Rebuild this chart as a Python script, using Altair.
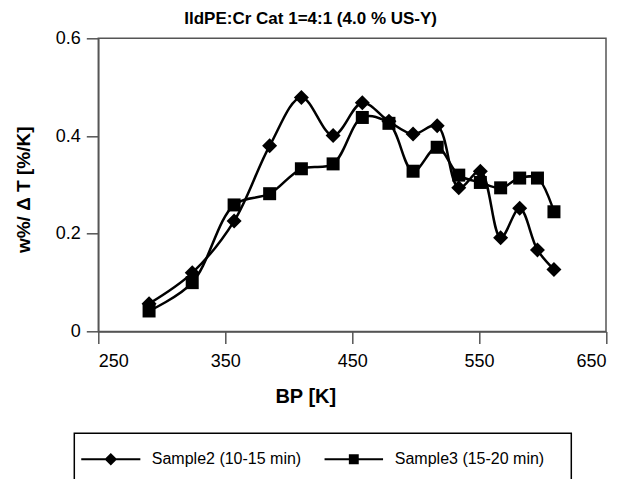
import altair as alt
import pandas as pd

# ---- data ----
bp = [290, 324, 357, 385, 410, 435, 458, 479, 498, 517, 534, 551, 567, 582, 596, 609]
sample2 = [0.057, 0.120, 0.226, 0.380, 0.479, 0.401, 0.468, 0.430, 0.404, 0.421,
           0.294, 0.328, 0.192, 0.252, 0.167, 0.127]
sample3 = [0.042, 0.100, 0.259, 0.282, 0.333, 0.343, 0.438, 0.426, 0.328, 0.377,
           0.320, 0.305, 0.294, 0.314, 0.314, 0.245]
names = ["Sample2 (10-15 min)", "Sample3 (15-20 min)"]
x_ticks = [250, 350, 450, 550, 650]
y_ticks = [0, 0.2, 0.4, 0.6]

df = pd.DataFrame({
    "bp": bp + bp,
    "w": sample2 + sample3,
    "series": [names[0]] * len(bp) + [names[1]] * len(bp),
})

FONT = "Liberation Sans"

x = alt.X("bp:Q",
          scale=alt.Scale(domain=[250, 650], nice=False, zero=False),
          axis=alt.Axis(values=x_ticks, title="BP [K]", labelPadding=9,
                        titleFontSize=20, titleFontWeight="bold",
                        titleX=207, titleY=65, titleBaseline="middle",
                        titleAlign="center"))
y = alt.Y("w:Q",
          scale=alt.Scale(domain=[0, 0.6], nice=False),
          axis=alt.Axis(values=y_ticks, title="w%/ \u0394 T [%/K]", labelPadding=6,
                        labelExpr="datum.value == 0 ? '0' : format(datum.value, '.1f')",
                        titleFontSize=19, titleFontWeight="bold",
                        titleX=-75, titleY=151, titleBaseline="middle",
                        titleAlign="center", titleAngle=-90))

# legend frame (decoration, in pixels relative to the plot origin)
frame = alt.Chart(alt.Data(values=[{}])).mark_rect(
    fill="white", stroke="black", strokeWidth=1.5
).encode(x=alt.value(-24), x2=alt.value(473), y=alt.value(395), y2=alt.value(470))

lines = alt.Chart(df).mark_line(
    interpolate="catmull-rom", color="black", strokeWidth=2.5
).encode(x=x, y=y, detail="series:N")

pts2 = alt.Chart(df).transform_filter(
    alt.datum.series == names[0]
).mark_point(shape="diamond", size=225, filled=True, color="black", opacity=1).encode(x=x, y=y)

pts3 = alt.Chart(df).transform_filter(
    alt.datum.series == names[1]
).mark_point(shape="square", size=169, filled=True, color="black", opacity=1).encode(x=x, y=y)

# legend glyphs: thin filled bar (the line) + marker, in units of r = 15 px
path2 = ("M-1.97,-0.065L1.97,-0.065L1.97,0.065L-1.97,0.065Z"
         "M0,-0.42L0.42,0L0,0.42L-0.42,0Z")
path3 = ("M-1.95,-0.065L1.95,-0.065L1.95,0.065L-1.95,0.065Z"
         "M-0.33,-0.33L0.33,-0.33L0.33,0.33L-0.33,0.33Z")

legend_layer = alt.Chart(df).transform_filter("false").mark_point(
    filled=True, color="black", opacity=1
).encode(
    x=x, y=y,
    shape=alt.Shape("series:N",
                    scale=alt.Scale(domain=names, range=[path2, path3]),
                    legend=alt.Legend(
                        orient="none", legendX=-24, legendY=395,
                        direction="horizontal", title=None,
                        padding=11, strokeColor="transparent", fillColor="transparent",
                        symbolSize=900, symbolFillColor="black",
                        symbolStrokeColor="black", symbolStrokeWidth=0,
                        symbolOpacity=1, symbolOffset=10.5, labelOffset=26,
                        labelFont=FONT, labelFontSize=16, labelColor="black",
                        columnPadding=23, labelLimit=400,
                    )),
)

chart = alt.layer(frame, lines, pts2, pts3, legend_layer).resolve_scale(
    shape="independent"
).properties(
    width=507.7, height=293.2,
    autosize=alt.AutoSizeParams(type="none"),
    padding={"left": 98.3, "top": 38.3, "right": 15, "bottom": 147.5},
    title=alt.TitleParams("IldPE:Cr Cat 1=4:1 (4.0 % US-Y)", anchor="middle",
                          frame="group", dx=-41.5, dy=16, offset=4, baseline="alphabetic",
                          font=FONT, fontSize=17, fontWeight="bold", color="black"),
).configure_view(
    stroke="#555555", strokeWidth=1.5
).configure_axis(
    grid=False, domainColor="#555555", domainWidth=1.5,
    tickColor="#555555", tickWidth=1.5, tickSize=12,
    labelFont=FONT, labelFontSize=18, labelColor="black",
    titleFont=FONT, titleColor="black",
)

chart.save("out.html", embed_options={"renderer": "svg", "actions": False})
